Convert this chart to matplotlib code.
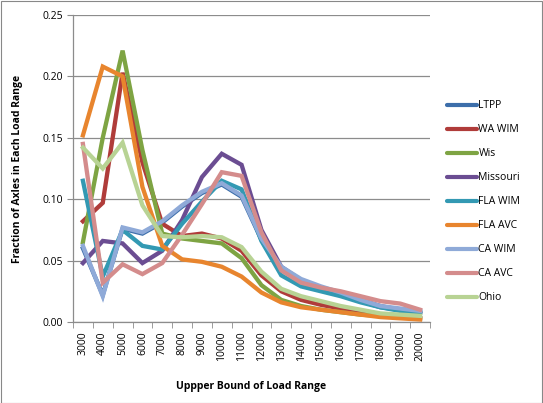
import matplotlib
matplotlib.use("Agg")
import matplotlib.pyplot as plt
import numpy as np
from matplotlib.lines import Line2D

categories = ["3000", "4000", "5000", "6000", "7000", "8000", "9000", "10000", "11000",
              "12000", "13000", "14000", "15000", "16000", "17000", "18000", "19000", "20000"]

ltpp     = [0.060, 0.022, 0.076, 0.072, 0.081, 0.094, 0.105, 0.112, 0.102, 0.067, 0.044, 0.034, 0.028, 0.023, 0.017, 0.012, 0.010, 0.008]
wa_wim   = [0.082, 0.097, 0.203, 0.130, 0.080, 0.070, 0.072, 0.068, 0.058, 0.038, 0.025, 0.018, 0.014, 0.011, 0.008, 0.006, 0.004, 0.003]
wis      = [0.065, 0.150, 0.221, 0.140, 0.072, 0.068, 0.066, 0.064, 0.052, 0.030, 0.018, 0.013, 0.010, 0.008, 0.006, 0.005, 0.004, 0.003]
missouri = [0.048, 0.066, 0.064, 0.048, 0.058, 0.083, 0.118, 0.137, 0.128, 0.075, 0.045, 0.034, 0.028, 0.023, 0.018, 0.013, 0.010, 0.007]
fla_wim  = [0.115, 0.037, 0.075, 0.062, 0.059, 0.080, 0.098, 0.115, 0.108, 0.066, 0.038, 0.029, 0.025, 0.021, 0.016, 0.012, 0.009, 0.007]
fla_avc  = [0.152, 0.208, 0.200, 0.110, 0.062, 0.051, 0.049, 0.045, 0.037, 0.024, 0.016, 0.012, 0.010, 0.008, 0.006, 0.004, 0.003, 0.002]
ca_wim   = [0.062, 0.021, 0.077, 0.073, 0.082, 0.095, 0.106, 0.113, 0.103, 0.068, 0.045, 0.035, 0.029, 0.024, 0.018, 0.013, 0.011, 0.009]
ca_avc   = [0.145, 0.032, 0.047, 0.039, 0.048, 0.071, 0.096, 0.122, 0.119, 0.073, 0.042, 0.032, 0.028, 0.025, 0.021, 0.017, 0.015, 0.010]
ohio     = [0.142, 0.125, 0.146, 0.095, 0.070, 0.069, 0.070, 0.069, 0.061, 0.041, 0.027, 0.021, 0.017, 0.013, 0.010, 0.007, 0.006, 0.005]

series_names = ["LTPP", "WA WIM", "Wis", "Missouri", "FLA WIM", "FLA AVC", "CA WIM", "CA AVC", "Ohio"]
series_vals = [ltpp, wa_wim, wis, missouri, fla_wim, fla_avc, ca_wim, ca_avc, ohio]
colors = ["#3C6EAA", "#B03C3A", "#7EA443", "#6B4D92", "#3399B3", "#E8852E", "#8FAAD8", "#D48C8C", "#B8D394"]

plt.rcParams['font.family'] = ['Open Sans', 'DejaVu Sans']

W, H = 543, 403
fig = plt.figure(figsize=(W/100, H/100), dpi=100)
# figure border
fig.patches.append(matplotlib.patches.Rectangle((0.5/W, 0.5/H), 1-1.5/W, 1-1.5/H, transform=fig.transFigure,
                                                fill=False, edgecolor="#888888", linewidth=0.8))

left, right, top, bottom = 73, 430, 15, 322
ax = fig.add_axes([left/W, 1-bottom/H, (right-left)/W, (bottom-top)/H])

x = np.arange(len(categories))
for name, vals, c in zip(series_names, series_vals, colors):
    ax.plot(x, vals, color=c, lw=3.1, solid_joinstyle='miter', label=name)

ax.set_xlim(-0.5, len(categories)-0.5)
ax.set_ylim(0, 0.25)
ax.set_yticks(np.arange(0, 0.2501, 0.05))
ax.set_yticklabels([f"{v:.2f}" for v in np.arange(0, 0.2501, 0.05)], fontsize=7.5)
ax.yaxis.grid(True, color="#8C8C8C", lw=0.9)
ax.set_axisbelow(True)

ax.set_xticks(x)
ax.set_xticklabels(categories, rotation=90, fontsize=7.5)
ax.set_xticks(np.arange(-0.5, len(categories)), minor=True)
ax.tick_params(axis='x', which='major', length=0, pad=7)
ax.tick_params(axis='x', which='minor', length=4, color="#8C8C8C", direction='out')
ax.tick_params(axis='y', length=4, color="#8C8C8C", direction='out', pad=3)

for s in ["top", "right"]:
    ax.spines[s].set_visible(False)
for s in ["left", "bottom"]:
    ax.spines[s].set_color("#8C8C8C")
    ax.spines[s].set_linewidth(0.9)

ax.set_ylabel("Fraction of Axles in Each Load Range", fontsize=7.5, fontweight='bold', labelpad=14)
ax.set_xlabel("Uppper Bound of Load Range", fontsize=7.5, fontweight='bold', labelpad=14)

handles = [Line2D([0], [0], color=c, lw=3.0, solid_capstyle='round') for c in colors]
fig.legend(handles, series_names, loc='upper left', bbox_to_anchor=(443/W, 1-96/H),
           frameon=False, fontsize=7.5, handlelength=2.9, handletextpad=0.1,
           labelspacing=1.25, borderaxespad=0)

fig.savefig("out.png", dpi=100)
